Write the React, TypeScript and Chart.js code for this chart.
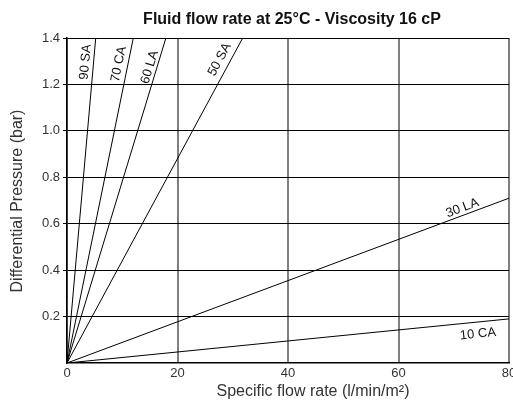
import React, { useEffect, useRef } from "react";
import { Chart, registerables } from "chart.js";

Chart.register(...registerables);

const seriesNames = ["90 SA", "70 CA", "60 LA", "50 SA", "30 LA", "10 CA"];
// end points of each straight characteristic (start at origin)
const endFlow = [5.2, 12.0, 17.9, 31.8, 80, 80];
const endPressure = [1.4, 1.4, 1.4, 1.4, 0.71, 0.19];
const xTicks = [0, 20, 40, 60, 80];
const yTicks = [0.2, 0.4, 0.6, 0.8, 1.0, 1.2, 1.4];
// label placement along each line (fraction of segment) and perpendicular offset in px
const labelFraction = [0.924, 0.914, 0.904, 0.919, 0.9, 0.927];
const labelOffset = [8, 9, 7, 10, 7, -12];

const TITLE = "Fluid flow rate at 25°C - Viscosity 16 cP";
const X_TITLE = "Specific flow rate (l/min/m²)";
const Y_TITLE = "Differential Pressure (bar)";
const FONT = "'Liberation Sans', Arial, sans-serif";

const textPlugin = {
  id: "textPlugin",
  afterDatasetsDraw(chart: any) {
    const { ctx, scales } = chart;
    const xs = scales.x;
    const ys = scales.y;
    ctx.save();
    ctx.fillStyle = "#111";
    ctx.font = `13px ${FONT}`;
    ctx.textAlign = "center";
    ctx.textBaseline = "middle";
    seriesNames.forEach((name, i) => {
      const x0 = xs.getPixelForValue(0);
      const y0 = ys.getPixelForValue(0);
      const x1 = xs.getPixelForValue(endFlow[i]);
      const y1 = ys.getPixelForValue(endPressure[i]);
      const dx = x1 - x0;
      const dy = y1 - y0;
      const len = Math.hypot(dx, dy);
      const ux = dx / len;
      const uy = dy / len;
      const nx = uy;
      const ny = -ux;
      const t = labelFraction[i];
      const px = x0 + dx * t + nx * labelOffset[i];
      const py = y0 + dy * t + ny * labelOffset[i];
      ctx.save();
      ctx.translate(px, py);
      ctx.rotate(Math.atan2(dy, dx));
      ctx.fillText(name, 0, 0);
      ctx.restore();
    });
    ctx.restore();
  },
  afterDraw(chart: any) {
    const { ctx } = chart;
    ctx.save();
    ctx.textAlign = "center";
    ctx.textBaseline = "middle";
    ctx.fillStyle = "#111";
    ctx.font = `bold 16px ${FONT}`;
    ctx.fillText(TITLE, 292, 20);
    ctx.fillStyle = "#333";
    ctx.font = `16px ${FONT}`;
    ctx.fillText(X_TITLE, 313, 392);
    ctx.save();
    ctx.translate(18, 201);
    ctx.rotate(-Math.PI / 2);
    ctx.fillText(Y_TITLE, 0, 0);
    ctx.restore();
    ctx.restore();
  },
};

export default function App() {
  const ref = useRef<HTMLCanvasElement | null>(null);
  useEffect(() => {
    if (!ref.current) return;
    Chart.defaults.font.family = FONT;
    const datasets = seriesNames.map((name, i) => ({
      label: name,
      data: [
        { x: 0, y: 0 },
        { x: endFlow[i], y: endPressure[i] },
      ],
      showLine: true,
      borderColor: "#000",
      borderWidth: 1,
      pointRadius: 0,
      fill: false,
    }));
    const chart = new Chart(ref.current, {
      type: "scatter",
      data: { datasets },
      plugins: [textPlugin],
      options: {
        responsive: false,
        animation: false,
        devicePixelRatio: 1,
        layout: { padding: { top: 38, right: 7, left: 0, bottom: 0 } },
        plugins: {
          legend: { display: false },
          title: { display: false },
          tooltip: { enabled: false },
        },
        scales: {
          x: {
            type: "linear",
            min: 0,
            max: 80,
            afterBuildTicks: (s: any) => {
              s.ticks = xTicks.map((v) => ({ value: v }));
            },
            afterFit: (s: any) => {
              s.height = 38;
              s.paddingLeft = 0;
              s.paddingRight = 0;
            },
            ticks: { color: "#333", font: { size: 13 }, padding: 3, maxRotation: 0 },
            grid: { color: "#808080", lineWidth: 2, drawTicks: false },
            border: { display: true, color: "#000", width: 1.5 },
          },
          y: {
            type: "linear",
            min: 0,
            max: 1.4,
            afterBuildTicks: (s: any) => {
              s.ticks = yTicks.map((v) => ({ value: v }));
            },
            afterFit: (s: any) => {
              s.width = 67;
              s.paddingTop = 0;
              s.paddingBottom = 0;
            },
            ticks: {
              color: "#333",
              font: { size: 13 },
              padding: 3,
              callback: (v: any) => Number(v).toFixed(1),
            },
            grid: { color: "#000", lineWidth: 1, tickLength: 4 },
            border: { display: true, color: "#000", width: 1.5 },
          },
        },
      },
    });
    return () => chart.destroy();
  }, []);
  return (
    <div style={{ position: "absolute", left: 0, top: 0, width: 513, height: 401, overflow: "hidden", background: "#fff" }}>
      <canvas ref={ref} width={516} height={401} style={{ width: 516, height: 401, display: "block" }} />
    </div>
  );
}
